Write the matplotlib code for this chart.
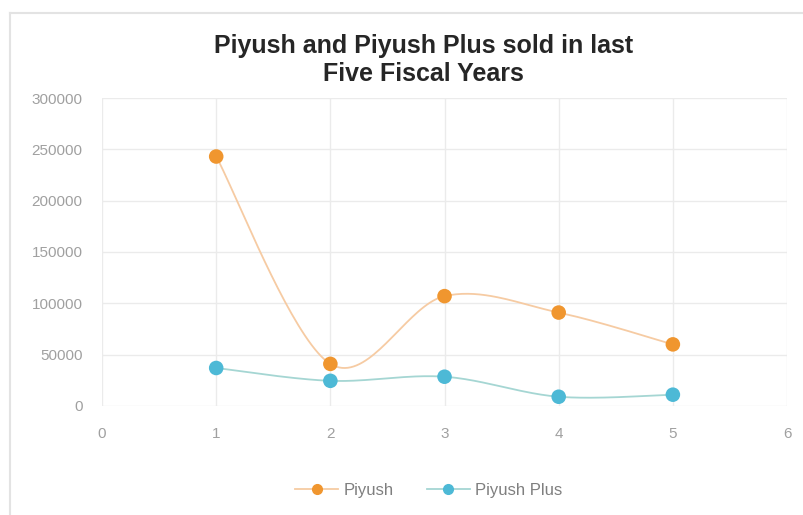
import numpy as np
from matplotlib import pyplot as plt
from matplotlib.lines import Line2D

# Data
years = [1, 2, 3, 4, 5]
piyush = [243000, 41000, 107000, 91000, 60000]
piyush_plus = [37000, 24500, 28500, 9000, 11000]


def smooth(xs, ys, n=40):
    # Catmull-Rom style smoothing like the spreadsheet "smoothed line"
    xs = np.asarray(xs, float)
    ys = np.asarray(ys, float)
    px = np.concatenate([[xs[0]], xs, [xs[-1]]])
    py = np.concatenate([[ys[0]], ys, [ys[-1]]])
    out_x, out_y = [], []
    t = np.linspace(0, 1, n)
    for i in range(1, len(px) - 2):
        p0, p1, p2, p3 = (np.array([px[j], py[j]]) for j in (i - 1, i, i + 1, i + 2))
        c1 = p1 + (p2 - p0) / 6
        c2 = p2 - (p3 - p1) / 6
        pts = ((1 - t) ** 3)[:, None] * p1 + (3 * (1 - t) ** 2 * t)[:, None] * c1 \
            + (3 * (1 - t) * t ** 2)[:, None] * c2 + (t ** 3)[:, None] * p2
        out_x.extend(pts[:, 0])
        out_y.extend(pts[:, 1])
    return out_x, out_y


plt.rcParams['font.family'] = ['Liberation Sans', 'DejaVu Sans']

fig = plt.figure(figsize=(8.04, 5.15), dpi=100)
ax = fig.add_axes([0.1269, 0.2117, 0.852, 0.598])

orange_line, orange_dot = '#f6cba3', '#f0962f'
blue_line, blue_dot = '#a5d6d3', '#4db9d6'

sx, sy = smooth(years, piyush)
ax.plot(sx, sy, color=orange_line, lw=1.3, zorder=2)
ax.scatter(years, piyush, s=110, color=orange_dot, zorder=3, edgecolors='none')
sx, sy = smooth(years, piyush_plus)
ax.plot(sx, sy, color=blue_line, lw=1.3, zorder=2)
ax.scatter(years, piyush_plus, s=110, color=blue_dot, zorder=3, edgecolors='none')

ax.set_xlim(0, 6)
ax.set_ylim(0, 300000)
ax.set_xticks(range(0, 7))
ax.set_yticks(range(0, 300001, 50000))
ax.grid(True, color='#ebebeb', lw=1)
ax.set_axisbelow(True)
for s in ax.spines.values():
    s.set_visible(False)
ax.tick_params(length=0, colors='#a0a0a0', labelsize=11)
ax.tick_params(axis='x', pad=15)
ax.tick_params(axis='y', pad=14)

fig.text(0.527, 0.883, "Piyush and Piyush Plus sold in last\nFive Fiscal Years",
         ha='center', va='center', fontsize=18, fontweight='bold',
         color='#262626', linespacing=1.2)

handles = [
    Line2D([], [], color=orange_line, lw=1.3, marker='o', markersize=7,
           markerfacecolor=orange_dot, markeredgecolor=orange_dot),
    Line2D([], [], color=blue_line, lw=1.3, marker='o', markersize=7,
           markerfacecolor=blue_dot, markeredgecolor=blue_dot),
]
fig.legend(handles, ['Piyush', 'Piyush Plus'], loc='center', ncol=2,
           bbox_to_anchor=(0.533, 0.048), frameon=False, fontsize=12,
           labelcolor='#7f7f7f', handlelength=2.6, columnspacing=2.0,
           handletextpad=0.3)

# chart frame (left and top edges visible in the reference)
fig.add_artist(Line2D([0.0124, 0.0124], [0.0, 0.975], color='#e3e3e3', lw=1.5))
fig.add_artist(Line2D([0.0124, 1.0], [0.975, 0.975], color='#e3e3e3', lw=1.5))

fig.savefig('out.png', dpi=100)
